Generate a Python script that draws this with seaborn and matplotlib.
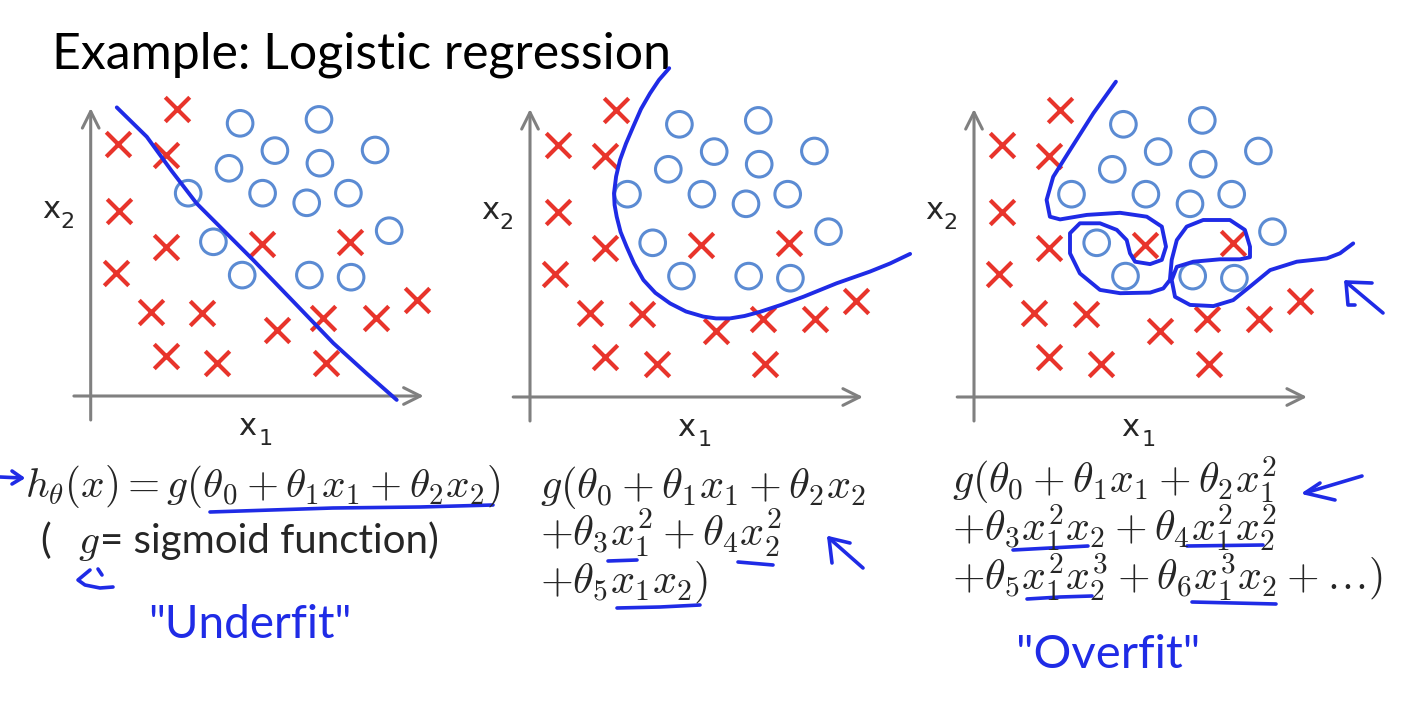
import numpy as np
import pandas as pd
import matplotlib
matplotlib.use("Agg")
import matplotlib.pyplot as plt
import seaborn as sns

sns.set_theme(style="white")
plt.rcParams['font.family'] = ['Lato', 'DejaVu Sans']
plt.rcParams['mathtext.fontset'] = 'cm'

# ---------------- data (shared training set, x1/x2 units) ----------------
neg_x1 = [2.87, 0.92, 2.50, 0.94, 2.51, 5.70, 8.64, 0.84, 2.01, 3.72, 6.20, 7.75, 9.51, 10.87, 2.51, 4.22, 7.83]
neg_x2 = [9.56, 8.40, 8.02, 6.18, 4.96, 5.07, 5.14, 4.09, 2.81, 2.76, 2.20, 2.59, 2.59, 3.20, 1.34, 1.09, 1.09]
pos_x1 = [4.98, 7.61, 6.14, 9.48, 4.61, 7.64, 3.25, 5.73, 7.20, 8.59, 9.95, 4.09, 5.05, 7.29, 8.68]
pos_x2 = [9.09, 9.22, 8.18, 8.20, 7.59, 7.76, 6.76, 6.76, 6.44, 6.76, 5.51, 5.14, 4.03, 4.03, 3.96]

# decision boundaries (hand drawn)
fit1_x1 = [0.87, 1.87, 2.70, 3.53, 4.50, 5.42, 6.80, 8.09, 9.20, 10.20]
fit1_x2 = [9.62, 8.64, 7.50, 6.42, 5.45, 4.53, 3.10, 1.76, 0.75, -0.13]
fit2_x1 = [4.64, 4.30, 4.00, 3.70, 3.44, 3.20, 3.00, 2.87, 2.80, 2.82, 2.89, 3.02, 3.22, 3.47, 3.78, 4.18,
           4.67, 5.20, 5.78, 6.20, 6.67, 7.15, 7.67, 8.40, 9.11, 10.22, 11.33, 12.00, 12.67]
fit2_x2 = [10.96, 10.57, 10.12, 9.60, 9.01, 8.45, 7.90, 7.35, 6.79, 6.40, 6.01, 5.50, 5.01, 4.45, 3.90, 3.47,
           3.12, 2.85, 2.68, 2.62, 2.62, 2.70, 2.84, 3.08, 3.34, 3.79, 4.18, 4.45, 4.77]
fit3_x1 = [4.73, 3.98, 3.20, 2.64, 2.42, 2.53, 2.87, 3.76, 4.87, 5.76, 6.26, 6.40, 6.26, 5.87, 5.37, 5.20,
           5.09, 4.76, 4.20, 3.53, 3.20, 3.20, 3.53, 4.20, 4.87, 5.87, 6.31, 6.53, 6.59, 6.76, 7.09, 7.64,
           8.53, 9.03, 9.20, 9.20, 8.87, 8.20, 7.31, 6.76, 6.59, 6.70, 7.20, 7.98, 8.64, 9.20, 9.87, 10.76,
           11.76, 12.20, 12.64]
fit3_x2 = [10.51, 9.46, 8.23, 7.34, 6.57, 6.01, 5.92, 6.07, 6.14, 6.01, 5.68, 5.01, 4.57, 4.43, 4.51, 4.79,
           5.23, 5.57, 5.79, 5.79, 5.46, 4.79, 4.12, 3.57, 3.46, 3.48, 3.62, 3.90, 4.57, 5.23, 5.68, 5.90,
           5.90, 5.57, 5.01, 4.66, 4.59, 4.59, 4.51, 4.34, 3.90, 3.34, 3.07, 3.03, 3.23, 3.68, 4.23, 4.51,
           4.62, 4.79, 5.12]

title = "Example: Logistic regression"
p1_lines = [r"$h_\theta(x) = g(\theta_0 + \theta_1 x_1 + \theta_2 x_2)$"]
p1_note = ["(", r"$g$", "= sigmoid function)"]
p2_lines = [r"$g(\theta_0 + \theta_1 x_1 + \theta_2 x_2$",
            r"$+\theta_3 x_1^2 + \theta_4 x_2^2$",
            r"$+\theta_5 x_1 x_2)$"]
p3_lines = [r"$g(\theta_0 + \theta_1 x_1 + \theta_2 x_1^2$",
            r"$+\theta_3 x_1^2 x_2 + \theta_4 x_1^2 x_2^2$",
            r"$+\theta_5 x_1^2 x_2^3 + \theta_6 x_1^3 x_2 + \ldots)$"]
hand_labels = ['"Underfit"', '"Overfit"']

# hand-drawn pen strokes (slide pixel coordinates)
pen_strokes = [
    [(210, 512), (333, 508), (420, 507), (493, 505)],
    [(0, 477), (22, 478)], [(12, 471), (22, 478), (12, 484)],
    [(90, 570), (78, 580), (85, 585), (100, 588), (113, 587)], [(98, 569), (102, 575)],
    [(608, 561), (637, 560)], [(738, 562), (773, 565)], [(617, 608), (660, 607), (700, 605)],
    [(863, 568), (829, 538)], [(832, 563), (829, 538), (850, 543)],
    [(1013, 550), (1050, 548), (1088, 546)], [(1187, 546), (1263, 545)],
    [(1027, 599), (1060, 597), (1092, 596)], [(1192, 602), (1276, 604)],
    [(1362, 476), (1305, 493)], [(1320, 483), (1305, 493), (1335, 500)],
    [(1383, 313), (1346, 282)], [(1372, 283), (1346, 282), (1348, 305), (1355, 305)],
]

RED = "#e8342b"
CIRC = "#5b8bd3"
GRAY = "#808080"
PEN = "#1f2be6"

W, H = 1406, 720
PX = 30.0
fig = plt.figure(figsize=(W / 100, H / 100), dpi=100)
fig.patch.set_facecolor("white")

ov = fig.add_axes([0, 0, 1, 1])
ov.set_xlim(0, W)
ov.set_ylim(H, 0)
ov.axis("off")

ov.text(52, 68, title, fontsize=36, ha="left", va="baseline", color="black")

ov.text(25, 497, p1_lines[0], fontsize=29.7, ha="left", va="baseline")
ov.text(40, 553, p1_note[0], fontsize=29, ha="left", va="baseline")
ov.text(78, 553, p1_note[1], fontsize=29.7, ha="left", va="baseline")
ov.text(100, 553, p1_note[2], fontsize=29, ha="left", va="baseline")
for i, s in enumerate(p2_lines):
    ov.text(540, 498 + 47.5 * i, s, fontsize=30.5, ha="left", va="baseline")
for i, s in enumerate(p3_lines):
    ov.text(952, 493 + 48 * i, s, fontsize=30.2, ha="left", va="baseline")

for st in pen_strokes:
    xs, ys = zip(*st)
    ov.plot(xs, ys, color=PEN, lw=2.6, solid_capstyle="round", solid_joinstyle="round")
ov.text(250, 625, hand_labels[0], fontsize=33, color=PEN, ha="center", va="center")
ov.text(1108, 655, hand_labels[1], fontsize=34, color=PEN, ha="center", va="center")

origins = [(90.7, 396), (530, 397), (974, 397)]
fits = [(fit1_x1, fit1_x2), (fit2_x1, fit2_x2), (fit3_x1, fit3_x2)]
X0, X1, Y0, Y1 = -2.5, 14.0, -2.5, 11.5
for (ox, oy), (fx, fy) in zip(origins, fits):
    left = (ox + X0 * PX) / W
    bottom = (H - (oy - Y0 * PX)) / H
    ax = fig.add_axes([left, bottom, (X1 - X0) * PX / W, (Y1 - Y0) * PX / H])
    ax.set_xlim(X0, X1)
    ax.set_ylim(Y0, Y1)
    ax.axis("off")
    ax.patch.set_alpha(0)
    arrow = dict(arrowstyle="->", color=GRAY, lw=2.2, shrinkA=0, shrinkB=0, mutation_scale=30)
    ax.annotate("", xy=(11.1, 0), xytext=(-0.56, 0), arrowprops=arrow)
    ax.annotate("", xy=(0, 9.6), xytext=(0, -0.8), arrowprops=arrow)
    ax.text(4.92, -1.30, "x", fontsize=22, ha="left", va="baseline", family="DejaVu Sans")
    ax.text(5.59, -1.63, "1", fontsize=16, ha="left", va="baseline", family="DejaVu Sans")
    ax.text(-1.63, 5.92, "x", fontsize=22, ha="left", va="baseline", family="DejaVu Sans")
    ax.text(-1.02, 5.59, "2", fontsize=16, ha="left", va="baseline", family="DejaVu Sans")
    sns.scatterplot(x=pos_x1, y=pos_x2, marker="o", s=340, facecolors="none",
                    edgecolor=CIRC, linewidth=2.2, ax=ax, zorder=2, legend=False)
    sns.scatterplot(x=neg_x1, y=neg_x2, marker="x", s=310, color=RED,
                    linewidth=3.0, ax=ax, zorder=3, legend=False)
    sns.lineplot(x=fx, y=fy, sort=False, estimator=None, color=PEN, linewidth=2.8,
                 ax=ax, zorder=4, legend=False)
    ax.set_xlim(X0, X1)
    ax.set_ylim(Y0, Y1)

fig.savefig("out.png", dpi=100, facecolor="white")
